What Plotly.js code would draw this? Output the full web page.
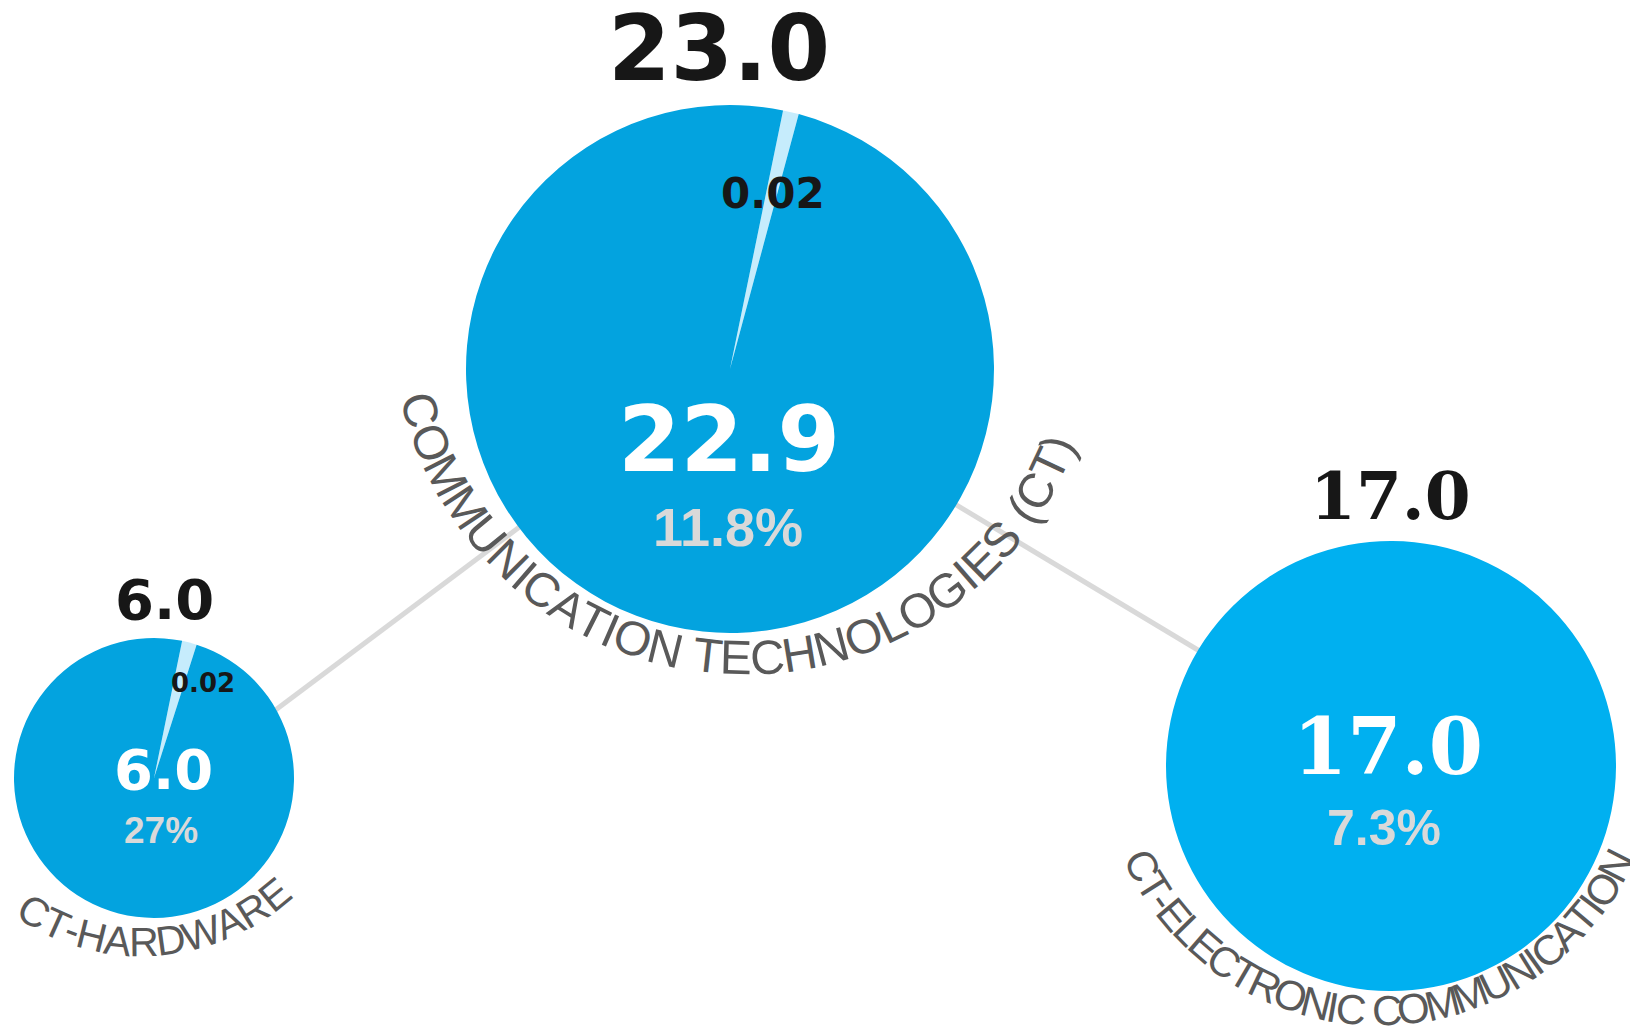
<!DOCTYPE html>
<html><head><meta charset="utf-8">
<script src="https://cdn.plot.ly/plotly-3.0.1.min.js"></script>
<style>html,body{margin:0;padding:0;background:#fff;overflow:hidden;} #chart{width:1630px;height:1033px;}</style>
</head><body><div id="chart"></div>
<script>
// ---------- data ----------
const nodeNames   = ['CT-HARDWARE', 'COMMUNICATION TECHNOLOGIES (CT)', 'CT-ELECTRONIC COMMUNICATION'];
const totalValues = [6.0, 23.0, 17.0];
const mainValues  = [6.0, 22.9, 17.0];
const minorValues = [0.02, 0.02, null];
const shareLabels = ['27%', '11.8%', '7.3%'];
const minorArcShare = [0.017, 0.0097, 0];   // visible share of the small wedge
const links = [[1, 0], [1, 2]];

// ---------- layout / style ----------
const W = 1630, H = 1033;
const LIGHT = '#C6ECFC';
const nodeStyle = [
  { cx:154, cy:778, r:140, color:'#03A3DF', numFont:'"DejaVu Sans", sans-serif', linkY:801,
    total:{x:164,y:599,s:56}, main:{x:163,y:769,s:56}, pct:{x:161,y:830,s:37}, minor:{x:203,y:683,s:26},
    arc:{cx:142, cy:733, R:209, a0:121.1, a1:50.6, s:41} },
  { cx:730, cy:369, r:264, color:'#03A3DF', numFont:'"DejaVu Sans", sans-serif', linkY:369,
    total:{x:719,y:48,s:90}, main:{x:729,y:439,s:90}, pct:{x:728,y:527,s:54}, minor:{x:773,y:193,s:42},
    arc:{cx:745, cy:322, R:336, a0:164.8, a1:21.5, s:48} },
  { cx:1391, cy:766, r:225, color:'#00B0F0', numFont:'"DejaVu Serif", serif', linkY:766,
    total:{x:1390,y:496,s:66}, main:{x:1388,y:746,s:78}, pct:{x:1384,y:828,s:50}, minor:null,
    arc:{cx:1379, cy:745, R:266, a0:153, a1:27, s:42} }
];
const ROT = 11.6;

const px = v => v / W, py = v => 1 - v / H;

// pies
const traces = nodeStyle.map((nd, i) => {
  const hasMinor = minorValues[i] != null;
  const sh = minorArcShare[i];
  const vals = hasMinor ? [mainValues[i] * sh / (1 - sh), mainValues[i]] : [mainValues[i]];
  return {
    type:'pie', values: vals, labels: hasMinor ? ['minor-' + i, 'main-' + i] : ['main-' + i],
    sort:false, direction:'clockwise', rotation: ROT,
    marker:{ colors: hasMinor ? [LIGHT, nd.color] : [nd.color], line:{width:0} },
    textinfo:'none', hoverinfo:'skip', showlegend:false,
    domain:{ x:[px(nd.cx - nd.r), px(nd.cx + nd.r)], y:[py(nd.cy + nd.r), py(nd.cy - nd.r)] }
  };
});

// link lines
const shapes = links.map(([a, b]) => ({
  type:'line', xref:'paper', yref:'paper', layer:'below',
  x0: px(nodeStyle[a].cx), y0: py(nodeStyle[a].linkY), x1: px(nodeStyle[b].cx), y1: py(nodeStyle[b].linkY),
  line:{ color:'#D9D9D9', width:5 }
}));

// annotations
const annotations = [];
function addText(txt, pos, family, color, weight) {
  annotations.push({ xref:'paper', yref:'paper', x: px(pos.x), y: py(pos.y), text: txt, showarrow:false,
    xanchor:'center', yanchor:'middle', font:{ family, size: pos.s, color, weight } });
}
nodeStyle.forEach((nd, i) => {
  addText(totalValues[i].toFixed(1), nd.total, nd.numFont, '#171717', 'bold');
  addText(mainValues[i].toFixed(1), nd.main, nd.numFont, '#FFFFFF', 'bold');
  addText(shareLabels[i], nd.pct, '"Liberation Sans", Arial, sans-serif', '#D9D9D9', 'bold');
  if (minorValues[i] != null && nd.minor) addText(minorValues[i].toFixed(2), nd.minor, '"DejaVu Sans", sans-serif', '#171717', 'bold');
});

// curved labels (one annotation per letter, rotated along the arc)
const ctx = document.createElement('canvas').getContext('2d');
function arcLabel(text, st) {
  ctx.font = st.s + 'px "Liberation Sans", Arial, sans-serif';
  const chars = Array.from(text);
  const w = chars.map(c => ctx.measureText(c).width);
  const centers = []; let acc = 0;
  w.forEach(wi => { centers.push(acc + wi / 2); acc += wi; });
  const c0 = centers[0], c1 = centers[centers.length - 1];
  chars.forEach((ch, k) => {
    if (ch === ' ') return;
    const t = (centers[k] - c0) / (c1 - c0);
    const phi = st.a0 + (st.a1 - st.a0) * t;
    const rad = phi * Math.PI / 180;
    annotations.push({ xref:'paper', yref:'paper',
      x: px(st.cx + st.R * Math.cos(rad)), y: py(st.cy + st.R * Math.sin(rad)),
      text: ch, showarrow:false, xanchor:'center', yanchor:'middle', textangle: phi - 90,
      font:{ family:'"Liberation Sans", Arial, sans-serif', size: st.s, color:'#595959' } });
  });
}
nodeStyle.forEach((nd, i) => arcLabel(nodeNames[i], nd.arc));

Plotly.newPlot('chart', traces, {
  width: W, height: H, margin:{l:0, r:0, t:0, b:0},
  paper_bgcolor:'#FFFFFF', plot_bgcolor:'#FFFFFF', showlegend:false,
  shapes, annotations
}, { staticPlot:true, displayModeBar:false });
</script>
</body></html>
